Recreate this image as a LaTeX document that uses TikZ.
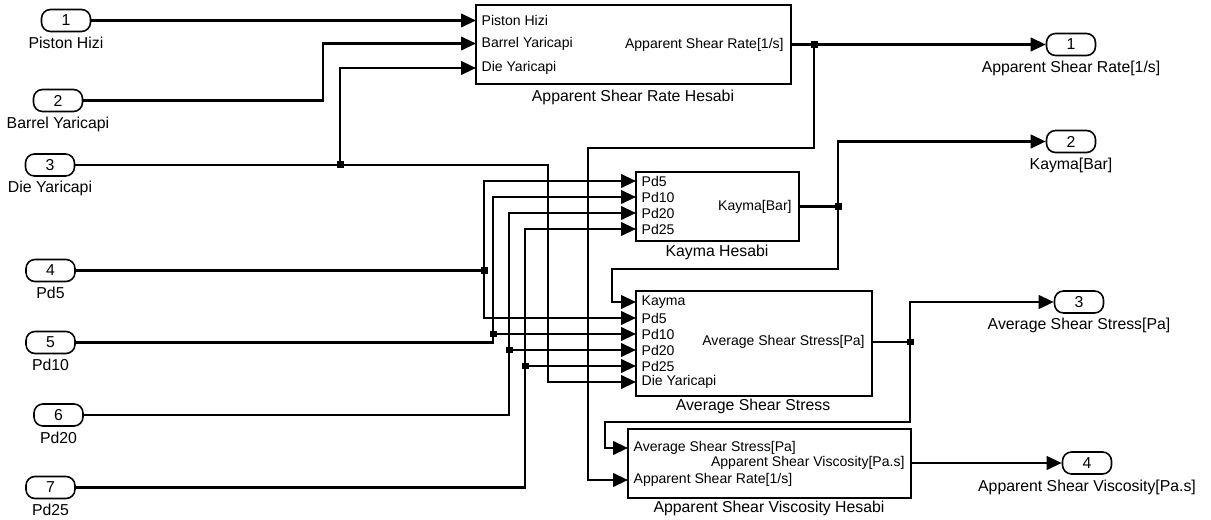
\documentclass[tikz,border=0pt]{standalone}
\usepackage{fontspec}
\setmainfont{Liberation Sans}
\usetikzlibrary{arrows.meta}

\begin{document}
\begin{tikzpicture}[
  x=0.02cm, y=-0.02cm,
  pill/.style={draw, line width=0.9pt, rounded corners=0.18cm, minimum width=0.98cm,
    minimum height=0.44cm, inner sep=0pt, font=\fontsize{9}{10}\selectfont},
  blk/.style={draw, line width=1.4pt, inner sep=0pt, outer sep=0pt},
  ptxt/.style={font=\fontsize{8}{9}\selectfont, inner xsep=3pt, inner ysep=0pt},
  lbl/.style={font=\fontsize{9}{10}\selectfont, inner sep=0pt},
  wire/.style={line width=1.4pt},
  sig/.style={wire, -{Triangle[length=0.3cm, width=0.27cm]}},
  jdot/.style={fill, minimum size=0.14cm, inner sep=0pt},
]
  \def\px{0.02cm} % one pixel of the layout
  \useasboundingbox (0,0) rectangle (1211,520);

  % Inports
  \foreach \n/\x/\y/\t in {1/66/20.5/Piston Hizi, 2/58/100.5/Barrel Yaricapi,
      3/50/165/Die Yaricapi, 4/50.5/270.5/Pd5, 5/50.5/342.5/Pd10,
      6/58.5/415/Pd20, 7/50.5/487.5/Pd25}{
    \node[pill] (in\n) at (\x,\y) {\n};
    \node[lbl, anchor=base] (in\n-l) at (\x,\y+28) {\t};
  }

  % Outports
  \foreach \n/\x/\y/\t in {1/1071/44.5/{Apparent Shear Rate[1/s]}, 2/1071/141.5/{Kayma[Bar]},
      3/1079/302/{Average Shear Stress[Pa]}, 4/1087/463/{Apparent Shear Viscosity[Pa.s]}}{
    \node[pill] (out\n) at (\x,\y) {\n};
    \node[lbl, anchor=base] (out\n-l) at (\x,\y+28) {\t};
  }

  % Apparent Shear Rate Hesabi
  \node[blk, minimum width=315*\px, minimum height=79*\px] (asr) at (633.5,44.5) {};
  \foreach \y/\t [count=\i] in {20.5/Piston Hizi, 43.5/Barrel Yaricapi, 68/Die Yaricapi}{
    \coordinate (asr-i\i) at (476,\y);
    \node[ptxt, anchor=west] (asr-t\i) at (asr-i\i) {\t};
  }
  \coordinate (asr-o) at (791,44.5);
  \node[ptxt, anchor=east, inner xsep=4pt] (asr-ot) at (asr-o) {Apparent Shear Rate[1/s]};
  \node[lbl] (asr-l) at (633,97) {Apparent Shear Rate Hesabi};

  % Kayma Hesabi
  \node[blk, minimum width=163*\px, minimum height=69*\px] (ks) at (717.5,206.5) {};
  \foreach \y/\t [count=\i] in {181/Pd5, 197/Pd10, 213/Pd20, 229/Pd25}{
    \coordinate (ks-i\i) at (636,\y);
    \node[ptxt, anchor=west] (ks-t\i) at (ks-i\i) {\t};
  }
  \coordinate (ks-o) at (799,206.5);
  \node[ptxt, anchor=east, inner xsep=4pt] (ks-ot) at (ks-o) {Kayma[Bar]};
  \node[lbl] (ks-l) at (717,252) {Kayma Hesabi};

  % Average Shear Stress
  \node[blk, minimum width=236*\px, minimum height=105*\px] (ass) at (754,343.5) {};
  \foreach \y/\t [count=\i] in {302/Kayma, 318/Pd5, 334/Pd10, 350/Pd20, 366/Pd25, 382/Die Yaricapi}{
    \coordinate (ass-i\i) at (636,\y);
    \node[ptxt, anchor=west] (ass-t\i) at (ass-i\i) {\t};
  }
  \coordinate (ass-o) at (872,342);
  \node[ptxt, anchor=east, inner xsep=4pt] (ass-ot) at (ass-o) {Average Shear Stress[Pa]};
  \node[lbl] (ass-l) at (753,406) {Average Shear Stress};

  % Apparent Shear Viscosity Hesabi
  \node[blk, minimum width=283*\px, minimum height=69*\px] (vis) at (769.5,463.5) {};
  \foreach \y/\t [count=\i] in {448/{Average Shear Stress[Pa]}, 480/{Apparent Shear Rate[1/s]}}{
    \coordinate (vis-i\i) at (628,\y);
    \node[ptxt, anchor=west] (vis-t\i) at (vis-i\i) {\t};
  }
  \coordinate (vis-o) at (911,463);
  \node[ptxt, anchor=east, inner xsep=3.5pt] (vis-ot) at (vis-o) {Apparent Shear Viscosity[Pa.s]};
  \node[lbl] (vis-l) at (769,508) {Apparent Shear Viscosity Hesabi};

  % Branch points
  \coordinate (jD) at (340,165);
  \coordinate (jR) at (814,44.5);
  \coordinate (j4) at (484,270.5);
  \coordinate (j5) at (493,334);
  \coordinate (j6) at (509,350);
  \coordinate (j7) at (525,366);
  \coordinate (jK) at (838,206.5);
  \coordinate (jS) at (910,342);

  % Inputs of the shear rate block
  \draw[sig] (in1.east) -- (asr-i1);
  \draw[sig] (in2.east) -- (323,100.5) |- (asr-i2);
  \draw[sig] (in3.east) -- (jD) |- (asr-i3);
  \draw[sig] (jD) -- (548,165) |- (ass-i6);

  % Pressure signals
  \draw[wire] (in4.east) -- (j4);
  \draw[sig] (j4) |- (ks-i1);
  \draw[sig] (j4) |- (ass-i2);
  \draw[sig] (in5.east) -| (j5) |- (ks-i2);
  \draw[sig] (j5) -- (ass-i3);
  \draw[sig] (in6.east) -| (j6) |- (ks-i3);
  \draw[sig] (j6) -- (ass-i4);
  \draw[sig] (in7.east) -| (j7) |- (ks-i4);
  \draw[sig] (j7) -- (ass-i5);

  % Block outputs
  \draw[wire] (asr-o) -- (jR);
  \draw[sig] (jR) -- (out1.west);
  \draw[sig] (jR) |- (588,148) |- (vis-i2);
  \draw[wire] (ks-o) -- (jK);
  \draw[sig] (jK) |- (out2.west);
  \draw[sig] (jK) |- (612,269) |- (ass-i1);
  \draw[wire] (ass-o) -- (jS);
  \draw[sig] (jS) |- (out3.west);
  \draw[sig] (jS) |- (605,422) |- (vis-i1);
  \draw[sig] (vis-o) -- (out4.west);

  % Junction dots
  \foreach \j in {jD,jR,j4,j5,j6,j7,jK,jS}
    \node[jdot] (\j-d) at (\j) {};
\end{tikzpicture}
\end{document}
